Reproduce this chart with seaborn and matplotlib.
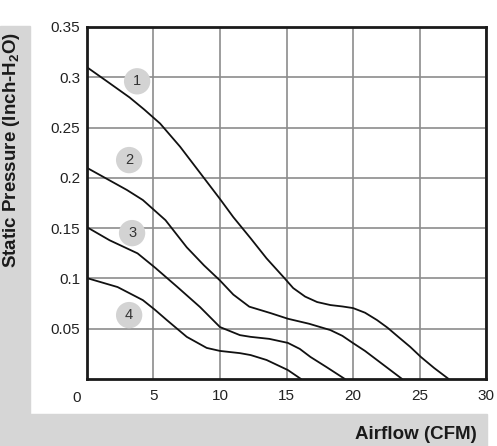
import matplotlib
matplotlib.use("Agg")
import matplotlib.pyplot as plt
import pandas as pd
import seaborn as sns

# ============================================
# DATA
# ============================================

curve1_x = [0, 1.5, 3.2, 4.3, 5.5, 7.0, 8.5, 10.0, 11.0, 12.3, 13.5, 14.8, 15.5, 16.4, 17.3, 18.3, 19.2, 20.0, 20.9, 21.8, 22.6, 23.4, 24.3, 25.1, 26.1, 27.2]
curve1_y = [0.310, 0.296, 0.280, 0.268, 0.254, 0.231, 0.205, 0.179, 0.161, 0.140, 0.120, 0.101, 0.0905, 0.082, 0.0766, 0.0736, 0.0722, 0.0706, 0.066, 0.0587, 0.051, 0.042, 0.032, 0.022, 0.011, 0.0]

curve2_x = [0, 1.5, 3.0, 4.2, 5.9, 7.5, 8.8, 10.0, 11.0, 12.2, 13.8, 15.1, 16.7, 18.3, 19.2, 20.0, 20.9, 21.8, 22.7, 23.7]
curve2_y = [0.210, 0.199, 0.188, 0.178, 0.158, 0.131, 0.113, 0.098, 0.084, 0.072, 0.0656, 0.060, 0.055, 0.0487, 0.043, 0.0358, 0.028, 0.019, 0.010, 0.0]

curve3_x = [0, 1.7, 3.8, 5.1, 6.8, 8.5, 10.0, 11.5, 12.3, 13.7, 15.1, 16.0, 16.8, 18.0, 19.4]
curve3_y = [0.151, 0.138, 0.125, 0.111, 0.0915, 0.0716, 0.0517, 0.0437, 0.042, 0.040, 0.036, 0.030, 0.022, 0.012, 0.0]

curve4_x = [0, 2.3, 4.2, 5.1, 6.0, 7.5, 9.0, 10.0, 11.5, 12.3, 13.5, 14.3, 15.1, 16.1]
curve4_y = [0.1004, 0.0915, 0.0785, 0.069, 0.0587, 0.042, 0.031, 0.028, 0.0258, 0.0239, 0.019, 0.014, 0.009, 0.0]

curve_names = ["1", "2", "3", "4"]
badge_x = [3.77, 3.17, 3.39, 3.17]
badge_y = [0.296, 0.2177, 0.1451, 0.0636]

x_ticks = [5, 10, 15, 20, 25, 30]
y_ticks = [0.05, 0.1, 0.15, 0.2, 0.25, 0.3, 0.35]
y_tick_labels = ["0.05", "0.1", "0.15", "0.2", "0.25", "0.3", "0.35"]

# ============================================
# BUILD TABLE
# ============================================

frames = []
for name, xs, ys in zip(curve_names,
                        [curve1_x, curve2_x, curve3_x, curve4_x],
                        [curve1_y, curve2_y, curve3_y, curve4_y]):
    frames.append(pd.DataFrame({"airflow": xs, "pressure": ys, "curve": name}))
df = pd.concat(frames, ignore_index=True)

# ============================================
# PLOT
# ============================================

sns.set_style("white")
plt.rcParams["font.family"] = ["Liberation Sans", "DejaVu Sans"]
plt.rcParams["mathtext.fontset"] = "custom"
plt.rcParams["mathtext.rm"] = "Liberation Sans:bold"
plt.rcParams["mathtext.bf"] = "Liberation Sans:bold"

fig = plt.figure(figsize=(4.97, 4.46), dpi=100)

# gray L-shaped band behind the axis titles
fig.patches.append(plt.Rectangle((0, 0.0717), 0.0604, 0.870, transform=fig.transFigure,
                                 color="#d6d6d6", zorder=0))
fig.patches.append(plt.Rectangle((0, 0), 0.98, 0.0717, transform=fig.transFigure,
                                 color="#d6d6d6", zorder=0))

ax = fig.add_axes([0.175, 0.150, 0.803, 0.7895])

sns.lineplot(data=df, x="airflow", y="pressure", units="curve", estimator=None,
             color="#111111", linewidth=1.3, sort=False, ax=ax)

ax.set_xlim(0, 30)
ax.set_ylim(0, 0.35)
ax.set_xticks(x_ticks)
ax.set_yticks(y_ticks)
ax.set_yticklabels(y_tick_labels)
ax.tick_params(length=0, labelsize=11, labelcolor="#222222")
ax.tick_params(axis="y", pad=5)
ax.tick_params(axis="x", pad=7)
ax.grid(True, color="#8c8c8c", linewidth=1.2)
ax.set_axisbelow(True)
for side in ["left", "bottom", "top", "right"]:
    ax.spines[side].set_visible(True)
    ax.spines[side].set_color("#1a1a1a")
    ax.spines[side].set_linewidth(2.0)

ax.set_xlabel("")
ax.set_ylabel("")
ax.text(-0.027, -0.033, "0", transform=ax.transAxes, ha="center", va="top",
        fontsize=11, color="#222222")

# numbered badges
for name, bx, by in zip(curve_names, badge_x, badge_y):
    ax.scatter([bx], [by], s=360, color="#d3d3d3", edgecolor="none", zorder=3)
    ax.text(bx, by, name, ha="center", va="center", fontsize=10.5,
            color="#333333", zorder=4)

fig.text(0.023, 0.664, "Static Pressure (Inch-H$_2$O)", rotation=90,
         ha="center", va="center", fontsize=13.5, fontweight="bold", color="#1a1a1a")
fig.text(0.960, 0.025, "Airflow (CFM)", ha="right", va="center",
         fontsize=13.5, fontweight="bold", color="#1a1a1a")

fig.savefig("out.png", dpi=100)
